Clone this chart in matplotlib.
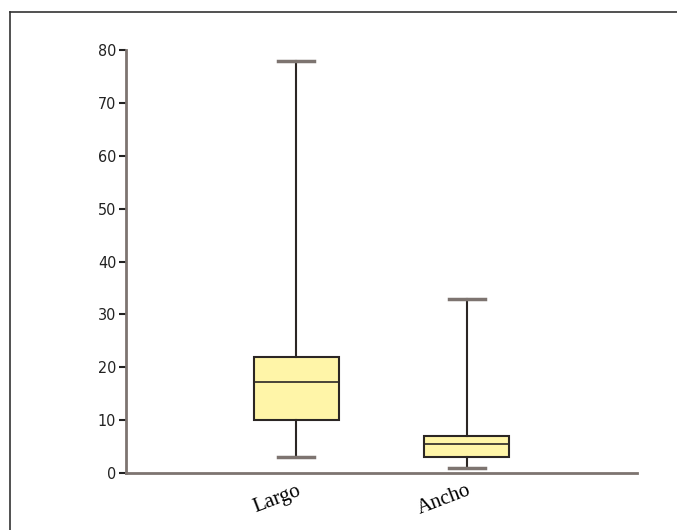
import matplotlib
matplotlib.use("Agg")
import matplotlib.pyplot as plt
from matplotlib.lines import Line2D

categories = ["Largo", "Ancho"]
whisker_low = [3, 1]
q1 = [10, 3]
median = [17.2, 5.5]
q3 = [22, 7]
whisker_high = [78, 33]
yticks = [0, 10, 20, 30, 40, 50, 60, 70, 80]

stats = []
for i, c in enumerate(categories):
    stats.append(dict(label=c, whislo=whisker_low[i], q1=q1[i], med=median[i],
                      q3=q3[i], whishi=whisker_high[i], fliers=[]))

fig = plt.figure(figsize=(6.77, 5.30), dpi=100)
ax = fig.add_axes([0.186, 0.1075, 0.755, 0.798])

spine_col = "#7d7470"
dark = "#2b2624"

ax.bxp(stats, positions=[1, 2], widths=0.5, patch_artist=True, showfliers=False,
       boxprops=dict(facecolor="#fff5a8", edgecolor=dark, linewidth=1.5),
       medianprops=dict(color=dark, linewidth=1.2),
       whiskerprops=dict(color=dark, linewidth=1.5),
       capprops=dict(color=spine_col, linewidth=2.5),
       capwidths=0.21)

ax.set_xlim(0, 3)
ax.set_ylim(0, 80)
ax.set_yticks(yticks)
ax.set_yticklabels([str(t) for t in yticks], fontsize=11.5,
                   family="DejaVu Sans", fontstretch="condensed", color="#222222")
ax.set_xticks([1, 2])
ax.set_xticklabels(categories, rotation=21, ha="right", va="top",
                   rotation_mode="anchor", family="Liberation Serif", fontsize=15)
ax.tick_params(axis="x", length=0, pad=6)
ax.tick_params(axis="y", length=5, width=1.5, color="#222222", pad=2)

for s in ["top", "right"]:
    ax.spines[s].set_visible(False)
for s in ["left", "bottom"]:
    ax.spines[s].set_color(spine_col)
    ax.spines[s].set_linewidth(2)

# outer frame (left and top edges)
x0 = 10 / 677
y0 = 1 - 12 / 530
fig.add_artist(Line2D([x0, x0], [0, y0], transform=fig.transFigure, color="#333333", lw=1.2))
fig.add_artist(Line2D([x0, 1], [y0, y0], transform=fig.transFigure, color="#333333", lw=1.2))

fig.savefig("out.png", dpi=100)
